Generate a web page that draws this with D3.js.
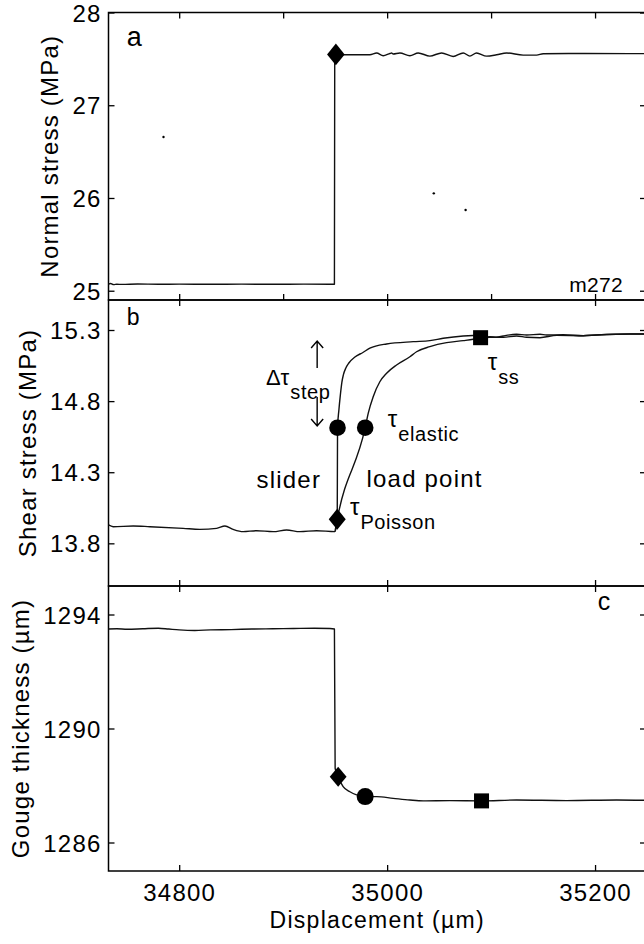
<!DOCTYPE html>
<html>
<head>
<meta charset="utf-8">
<script src="https://cdn.jsdelivr.net/npm/d3@7"></script>
<style>
  body { margin: 0; background: #fff; }
  svg text { font-family: "Liberation Sans", Arial, Helvetica, sans-serif; fill: #000; }
</style>
</head>
<body>
<svg id="chart" width="644" height="944"></svg>
<script>
// ---- data (displacement in µm) ----
const displacementDomain = [34732, 35249];
const xTicksPanelA = [34800, 34900, 35000, 35100, 35200];
const xTicks = [34800, 35000, 35200];
const xTickLabels = ["34800", "35000", "35200"];

const normalTicks = [25, 26, 27, 28];
const shearTicks = [13.8, 14.3, 14.8, 15.3];
const gougeTicks = [1286, 1290, 1294];

// normal stress (MPa)
const normalStress = [
  [34732, 25.072], [34734, 25.078], [34737, 25.066], [34740, 25.070], [34745, 25.068],
  [34760, 25.072], [34780, 25.070], [34800, 25.071], [34830, 25.070], [34860, 25.071],
  [34890, 25.070], [34920, 25.071], [34949.3, 25.070], [34949.6, 27.50], [34950.7, 27.548],
  [34957.7, 27.545], [34983.4, 27.545], [34989.9, 27.563], [34996.2, 27.534], [35002.7, 27.558],
  [35004.3, 27.563], [35005.8, 27.553], [35012.3, 27.564], [35021.9, 27.534], [35029.9, 27.564],
  [35041.1, 27.530], [35052.4, 27.564], [35063.5, 27.526], [35073.2, 27.564], [35079.6, 27.530],
  [35086.0, 27.564], [35095.7, 27.530], [35105.3, 27.544], [35114.9, 27.564], [35130.9, 27.540],
  [35143.8, 27.540], [35150.1, 27.556], [35190, 27.558], [35233.5, 27.557], [35249, 27.556]
];
const normalStray = [[34784.9, 26.657], [35044.9, 26.050], [35075.5, 25.870]];

// shear stress (MPa): common record before the step, then slider and load point
const shearBeforeStep = [
  [34732, 13.929], [34736.5, 13.917], [34755.8, 13.922], [34771.8, 13.917], [34803.8, 13.905],
  [34819.9, 13.898], [34836.0, 13.905], [34844.0, 13.922], [34851.9, 13.898], [34861.5, 13.882],
  [34874.4, 13.889], [34890.4, 13.882], [34903.3, 13.894], [34916.1, 13.882], [34932.2, 13.889],
  [34949.8, 13.882]
];
const shearSlider = [
  [34952.0, 13.969], [34952.3, 14.613], [34953.6, 14.737], [34955.0, 14.842], [34956.5, 14.934],
  [34957.9, 14.984], [34960.3, 15.033], [34963.2, 15.068], [34969.0, 15.110], [34976.7, 15.142],
  [34983.4, 15.172], [34999.5, 15.202], [35025.1, 15.218], [35041.1, 15.225], [35053.9, 15.242],
  [35073.2, 15.258], [35082.8, 15.261], [35089.9, 15.246], [35098.8, 15.253], [35105.3, 15.249],
  [35111.6, 15.258], [35124.5, 15.270], [35134.2, 15.265], [35147, 15.270], [35153.4, 15.265],
  [35169.4, 15.267], [35188.6, 15.260], [35201.5, 15.265], [35233.5, 15.272], [35249, 15.272]
];
const shearLoadPoint = [
  [34952.0, 13.969], [34978.9, 14.613], [34981.8, 14.714], [34986.6, 14.831], [34993.0, 14.936],
  [34999.5, 14.996], [35009.1, 15.054], [35021.9, 15.112], [35028.3, 15.147], [35041.1, 15.183],
  [35057.2, 15.211], [35073.2, 15.225], [35082.8, 15.235], [35089.9, 15.246], [35098.8, 15.249],
  [35111.6, 15.249], [35124.5, 15.258], [35134.2, 15.249], [35147, 15.246], [35163.1, 15.262],
  [35188.6, 15.260], [35201.5, 15.265], [35233.5, 15.272], [35249, 15.272]
];

// gouge thickness (µm)
const gougeThickness = [
  [34732, 1293.49], [34740, 1293.50], [34750, 1293.48], [34765, 1293.50], [34780, 1293.52],
  [34790, 1293.49], [34800, 1293.46], [34815, 1293.44], [34830, 1293.46], [34850, 1293.47],
  [34870, 1293.49], [34890, 1293.50], [34910, 1293.51], [34930, 1293.52], [34945, 1293.51],
  [34949.3, 1293.49], [34950.0, 1288.60], [34952.9, 1288.31], [34957.7, 1287.96], [34964.2, 1287.78],
  [34970.6, 1287.67], [34978.9, 1287.61], [34989.9, 1287.61], [35005.8, 1287.55], [35021.9, 1287.49],
  [35034.8, 1287.46], [35060.4, 1287.47], [35090.8, 1287.46], [35124.5, 1287.49], [35172.6, 1287.47],
  [35220.7, 1287.49], [35249, 1287.48]
];

// characteristic points: Poisson (diamond), elastic (circle), steady state (square)
const normalPoisson = [[34950.7, 27.548]];
const shearPoisson = [[34952.0, 13.969]];
const shearElastic = [[34952.3, 14.613], [34978.9, 14.613]];
const shearSteady = [[35089.9, 15.246]];
const gougePoisson = [[34952.9, 1288.31]];
const gougeElastic = [[34978.9, 1287.61]];
const gougeSteady = [[35090.8, 1287.46]];

// ---- layout ----
const svg = d3.select("#chart");
const left = 108.5, right = 646;
const x = d3.scaleLinear().domain(displacementDomain).range([left, right]);

const panels = [
  { top: 12.5, bottom: 300, domain: [24.9, 28], ticks: normalTicks, fmt: d3.format("d"),
    xt: xTicksPanelA, label: "Normal stress (MPa)", labelX: 57.5 },
  { top: 300, bottom: 586, domain: [13.5, 15.511], ticks: shearTicks, fmt: d3.format(".1f"),
    xt: xTicks, label: "Shear stress (MPa)", labelX: 35.5 },
  { top: 586, bottom: 871, domain: [1285, 1295], ticks: gougeTicks, fmt: d3.format("d"),
    xt: xTicks, label: "Gouge thickness (\u00b5m)", labelX: 29 }
];
panels.forEach(p => { p.y = d3.scaleLinear().domain(p.domain).range([p.bottom, p.top]); });

const tickLen = 6;
const line = y => d3.line().x(d => x(d[0])).y(d => y(d[1])).curve(d3.curveMonotoneX);

panels.forEach((p, i) => {
  const g = svg.append("g");
  // y axes (left labelled, right mirrored), inward ticks
  const yl = g.append("g").attr("transform", `translate(${left},0)`)
    .call(d3.axisLeft(p.y).tickValues(p.ticks).tickFormat(p.fmt).tickSize(-tickLen).tickSizeOuter(0).tickPadding(7));
  const yr = g.append("g").attr("transform", `translate(${right},0)`)
    .call(d3.axisRight(p.y).tickValues(p.ticks).tickFormat("").tickSize(-tickLen).tickSizeOuter(0));
  // x axes top and bottom, inward ticks
  const xb = g.append("g").attr("transform", `translate(0,${p.bottom})`)
    .call(d3.axisBottom(x).tickValues(p.xt).tickSize(-tickLen).tickSizeOuter(0)
      .tickFormat(i === 2 ? ((d, k) => xTickLabels[k]) : ""));
  const xt = g.append("g").attr("transform", `translate(0,${p.top})`)
    .call(d3.axisTop(x).tickValues(p.xt).tickSize(-tickLen).tickSizeOuter(0).tickFormat(""));
  [yl, yr, xb, xt].forEach(a => {
    a.select(".domain").remove();
    a.selectAll(".tick line").attr("stroke", "#000").attr("stroke-width", 1.3);
    a.selectAll(".tick text").attr("font-size", 24).attr("letter-spacing", 1.2)
      .attr("font-family", "Liberation Sans, Arial, sans-serif");
  });
  yl.selectAll(".tick text").attr("dy", "0.36em");
  xb.selectAll(".tick text").attr("dy", 0).attr("y", 30);

  // frame
  g.append("rect").attr("x", left).attr("y", p.top)
    .attr("width", right - left).attr("height", p.bottom - p.top)
    .attr("fill", "none").attr("stroke", "#000").attr("stroke-width", 1.5);

  // y label
  g.append("text")
    .attr("transform", `translate(${p.labelX},${(p.top + p.bottom) / 2}) rotate(-90)`)
    .attr("text-anchor", "middle").attr("font-size", 24).attr("letter-spacing", 1.2)
    .text(p.label);
});

const [pa, pb, pc] = panels;
const traceStyle = sel => sel.attr("fill", "none").attr("stroke", "#111").attr("stroke-width", 1.4)
  .attr("stroke-linejoin", "round");

// panel a
svg.append("path").datum(normalStress).attr("d", line(pa.y)).call(traceStyle);
svg.selectAll(".stray").data(normalStray).join("circle")
  .attr("cx", d => x(d[0])).attr("cy", d => pa.y(d[1])).attr("r", 1.2).attr("fill", "#000");

// panel b
svg.append("path").datum(shearBeforeStep.concat(shearSlider)).attr("d", line(pb.y)).call(traceStyle);
svg.append("path").datum(shearBeforeStep.slice(-1).concat(shearLoadPoint)).attr("d", line(pb.y)).call(traceStyle);

// panel c
svg.append("path").datum(gougeThickness).attr("d", line(pc.y)).call(traceStyle);

// marker symbols
function diamonds(data, y, hw, hh) {
  svg.append("g").selectAll("path").data(data).join("path")
    .attr("d", d => {
      const cx = x(d[0]), cy = y(d[1]);
      return `M${cx},${cy - hh}L${cx + hw},${cy}L${cx},${cy + hh}L${cx - hw},${cy}Z`;
    }).attr("fill", "#000");
}
function circles(data, y, r) {
  svg.append("g").selectAll("circle").data(data).join("circle")
    .attr("cx", d => x(d[0])).attr("cy", d => y(d[1])).attr("r", r).attr("fill", "#000");
}
function squares(data, y, h) {
  svg.append("g").selectAll("rect").data(data).join("rect")
    .attr("x", d => x(d[0]) - h).attr("y", d => y(d[1]) - h)
    .attr("width", 2 * h).attr("height", 2 * h).attr("fill", "#000");
}
diamonds(normalPoisson, pa.y, 8.8, 10.8);
diamonds(shearPoisson, pb.y, 8.5, 10.5);
circles(shearElastic, pb.y, 8.3);
squares(shearSteady, pb.y, 7.5);
diamonds(gougePoisson, pc.y, 8.4, 10);
circles(gougeElastic, pc.y, 8.5);
squares(gougeSteady, pc.y, 7.5);

// annotations
function label(px, py, txt, size, ls) {
  return svg.append("text").attr("x", px).attr("y", py).attr("font-size", size)
    .attr("letter-spacing", ls || 0).text(txt);
}
label(x(34749.5), pa.y(27.64), "a", 27);
label(x(34749.5), pb.y(15.335), "b", 23);
label(x(35202.5), pc.y(1294.15), "c", 25);
label(x(35175.1), pa.y(24.99), "m272", 21, 0.3);

function tauLabel(px, py, main, sub, mainSize) {
  const t = svg.append("text").attr("x", px).attr("y", py);
  t.append("tspan").attr("font-size", mainSize || 24).text(main);
  t.append("tspan").attr("font-size", 20).attr("letter-spacing", 0.6).attr("dy", 14).attr("dx", 1).text(sub);
}
tauLabel(x(34883.4), pb.y(14.913), "\u0394\u03c4", "step", 22);
tauLabel(x(35000.7), pb.y(14.618), "\u03c4", "elastic");
tauLabel(x(34964.2), pb.y(14.0), "\u03c4", "Poisson");
tauLabel(x(35096.7), pb.y(15.019), "\u03c4", "ss");
label(x(34874.4), pb.y(14.189), "slider", 24, 1.2);
label(x(34980.2), pb.y(14.196), "load point", 24, 1.2);

// Δτ_step arrows
function arrow(xv, yFrom, yTo) {
  const ax = x(xv), y0 = pb.y(yFrom), y1 = pb.y(yTo);
  const dir = y1 < y0 ? 1 : -1;
  svg.append("path")
    .attr("d", `M${ax},${y0}L${ax},${y1}M${ax - 6},${y1 + dir * 7}L${ax},${y1}L${ax + 6},${y1 + dir * 7}`)
    .attr("fill", "none").attr("stroke", "#000").attr("stroke-width", 1.4);
}
arrow(34932.7, 15.033, 15.223);
arrow(34932.7, 14.829, 14.625);

// axis title
svg.append("text").attr("x", (left + right) / 2).attr("y", 928)
  .attr("text-anchor", "middle").attr("font-size", 23).attr("letter-spacing", 1.3)
  .text("Displacement (\u00b5m)");
</script>
</body>
</html>
